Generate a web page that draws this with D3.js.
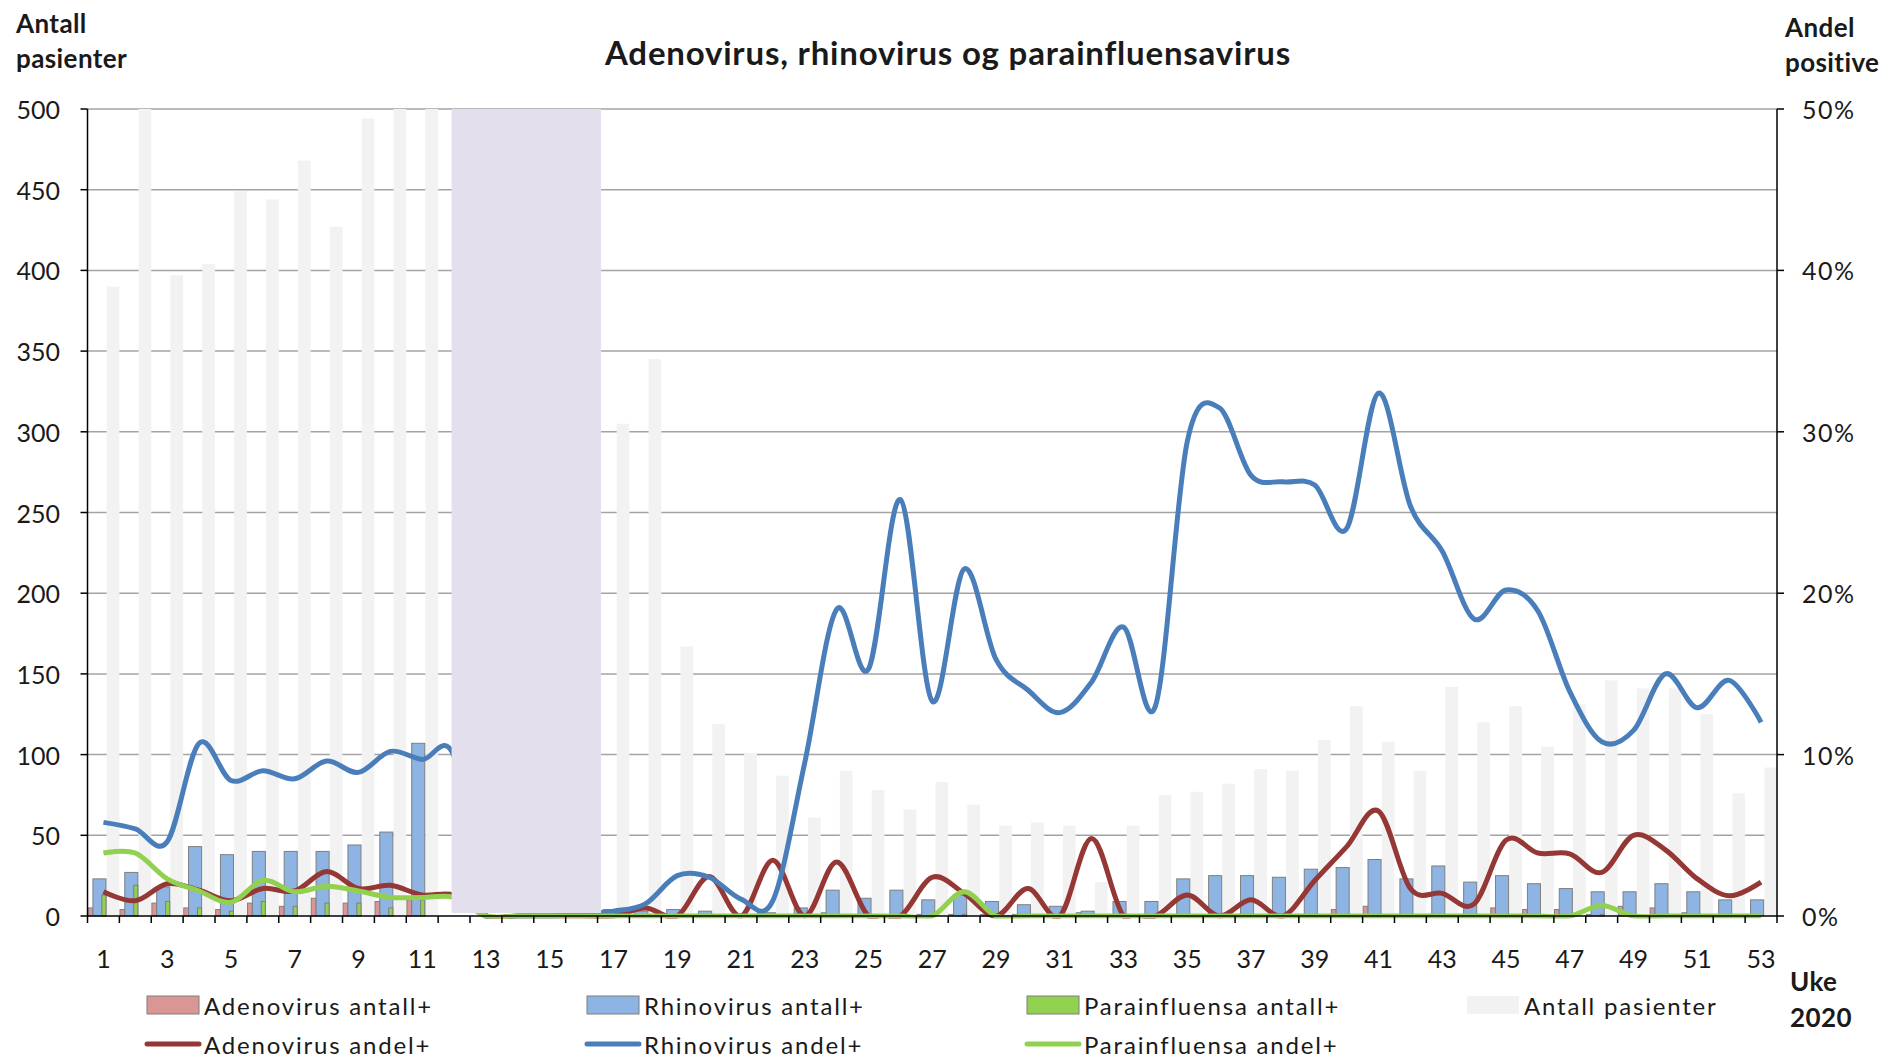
<!DOCTYPE html>
<html>
<head>
<meta charset="utf-8">
<script src="https://cdn.jsdelivr.net/npm/d3@7"></script>
<style>
  body { margin: 0; background: #fff; }
  svg text { font-family: Lato, "Open Sans", sans-serif; fill: #1a1a1a; }
</style>
</head>
<body>
<div class="chart"></div>
<script>
// weeks (uke) 1-53, 2020
const weeks = [1,2,3,4,5,6,7,8,9,10,11,12,13,14,15,16,17,18,19,20,21,22,23,24,25,26,27,
               28,29,30,31,32,33,34,35,36,37,38,39,40,41,42,43,44,45,46,47,48,49,50,51,52,53];
const xLabels = [1,3,5,7,9,11,13,15,17,19,21,23,25,27,29,31,33,35,37,39,41,43,45,47,49,51,53];

// counts (left axis)
const antallPasienter = [390,520,397,404,449,444,468,427,494,520,520,0,0,0,0,0,305,345,167,119,101,87,61,90,78,66,
                         83,69,56,58,56,21,56,75,77,82,91,90,109,130,108,90,142,120,130,105,131,146,141,141,125,76,92];
const adenoAntall = [5,4,8,5,4,8,6,11,8,9,10,0,0,0,0,0,0,1,0,1,0,3,0,2,0,0,
                     1,1,1,1,0,2,0,0,1,0,1,0,1,4,6,1,1,0,5,4,4,1,6,5,2,0,1];
const rhinoAntall = [23,27,18,43,38,40,40,40,44,52,107,0,0,0,0,0,4,3,4,3,0,2,5,16,11,16,
                     10,13,9,7,6,3,9,9,23,25,25,24,29,30,35,23,31,21,25,20,17,15,15,20,15,10,10];
const paraAntall = [13,19,9,5,3,9,6,8,8,5,10,0,0,0,0,0,0,0,0,0,0,0,0,0,0,0,
                    0,1,0,0,0,0,0,0,0,0,0,0,0,0,0,0,0,0,0,0,0,1,0,0,0,0,0];

// share positive, % (right axis)
const adenoAndel = [1.5,0.95,2.0,1.6,0.95,1.7,1.55,2.75,1.7,1.9,1.3,1.3,0,0,0,0,0,0.5,0,2.45,0,3.45,0,3.35,0,0,
                    2.4,1.4,0,1.7,0,4.8,0,0,1.3,0,1.0,0,2.2,4.3,6.5,1.7,1.4,0.75,4.7,3.9,3.85,2.7,5.0,4.1,2.3,1.25,2.1];
const rhinoAndel = [5.8,5.4,4.6,10.7,8.4,9.0,8.5,9.6,8.9,10.2,9.7,9.9,0,0,0,0.1,0.3,0.75,2.5,2.4,1.05,0.95,9.5,19.0,15.3,25.8,
                    13.3,21.5,15.9,14.0,12.6,14.5,17.9,13.0,29.4,31.5,27.3,26.9,26.7,24.0,32.4,25.4,22.6,18.4,20.2,18.9,13.9,10.8,11.5,15.0,12.9,14.6,12.0];
const paraAndel = [3.9,3.9,2.3,1.55,0.85,2.2,1.5,1.85,1.55,1.15,1.15,1.15,0,0,0,0,0,0,0,0,0,0,0,0,0,0,
                   0,1.5,0,0,0,0,0,0,0,0,0,0,0,0,0,0,0,0,0,0,0,0.65,0,0,0,0,0];

const leftTicks = [0,50,100,150,200,250,300,350,400,450,500];
const rightTicks = [0,10,20,30,40,50];
const pauseWeeks = [12,16]; // shaded period

const w = 1888, h = 1059;
const pLeft = 87.5, pRight = 1777, pTop = 109, pBottom = 916;

const svg = d3.select('.chart').append('svg')
    .attr('width', w)
    .attr('height', h);

const x = d3.scaleBand().domain(weeks).range([pLeft, pRight]).padding(0);
const xc = d3.scaleLinear().domain([0.5, 53.5]).range([pLeft, pRight]);
const y = d3.scaleLinear().domain([0, 500]).range([pBottom, pTop]);
const yP = d3.scaleLinear().domain([0, 50]).range([pBottom, pTop]);
const bw = x.bandwidth();

const cAdeno = '#da9694', cRhino = '#8db4e2', cPara = '#92d050', cGrey = '#f2f2f2';
const lAdeno = '#953735', lRhino = '#4a7ebb', lPara = '#92d050';

//gridlines
svg.selectAll('line.grid')
    .data(leftTicks.filter(d => d > 0))
    .enter().append('line')
    .attr('class', 'grid')
    .attr('x1', pLeft).attr('x2', pRight)
    .attr('y1', d => y(d)).attr('y2', d => y(d))
    .attr('stroke', '#a3a3a3')
    .attr('stroke-width', 1.5);

svg.append('clipPath').attr('id', 'plot')
    .append('rect')
    .attr('x', pLeft).attr('y', pTop)
    .attr('width', pRight - pLeft).attr('height', pBottom - pTop + 2.5);

const plot = svg.append('g').attr('clip-path', 'url(#plot)');

//grey bars - antall pasienter
plot.selectAll('rect.pas')
    .data(weeks)
    .enter().append('rect')
    .attr('class', 'pas')
    .attr('x', d => x(d) + bw * 0.6)
    .attr('width', bw * 0.4)
    .attr('y', (d, i) => y(antallPasienter[i]))
    .attr('height', (d, i) => y(0) - y(antallPasienter[i]))
    .attr('fill', cGrey);

function bars(cls, values, f0, f1, color) {
    plot.selectAll('rect.' + cls)
        .data(weeks.filter((d, i) => values[i] > 0))
        .enter().append('rect')
        .attr('class', cls)
        .attr('x', d => x(d) + bw * f0)
        .attr('width', bw * (f1 - f0))
        .attr('y', d => y(values[d - 1]))
        .attr('height', d => y(0) - y(values[d - 1]))
        .attr('fill', color)
        .attr('stroke', '#7f7f7f')
        .attr('stroke-width', 1);
}
bars('ade', adenoAntall, 0.02, 0.17, cAdeno);
bars('rhi', rhinoAntall, 0.17, 0.58, cRhino);
bars('par', paraAntall, 0.45, 0.58, cPara);

//x axis line
svg.append('line')
    .attr('x1', pLeft).attr('x2', pRight)
    .attr('y1', pBottom).attr('y2', pBottom)
    .attr('stroke', '#000').attr('stroke-width', 1.5);

//smoothed lines
const line = d3.line()
    .x((d, i) => xc(weeks[i]))
    .y(d => yP(d))
    .curve(d3.curveCardinal.tension(0));

[[adenoAndel, lAdeno], [rhinoAndel, lRhino], [paraAndel, lPara]].forEach(([vals, col]) => {
    plot.append('path')
        .attr('d', line(vals))
        .attr('fill', 'none')
        .attr('stroke', col)
        .attr('stroke-width', 5)
        .attr('stroke-linejoin', 'round');
});

//shaded pause
svg.append('rect')
    .attr('x', xc(pauseWeeks[0]) - 2.5)
    .attr('y', y(500))
    .attr('width', xc(pauseWeeks[1] + 0.5) + 3.5 - (xc(pauseWeeks[0]) - 2.5))
    .attr('height', y(0) - y(500) - 3)
    .attr('fill', '#e4dfec');

//left axis
const axL = svg.append('g');
axL.append('line').attr('x1', pLeft).attr('x2', pLeft).attr('y1', pTop).attr('y2', pBottom)
    .attr('stroke', '#000').attr('stroke-width', 1.5);
axL.selectAll('line.t').data(leftTicks).enter().append('line')
    .attr('x1', pLeft - 7).attr('x2', pLeft).attr('y1', d => y(d)).attr('y2', d => y(d))
    .attr('stroke', '#000').attr('stroke-width', 1.5);
axL.selectAll('text').data(leftTicks).enter().append('text')
    .text(d => d)
    .attr('x', 60).attr('y', d => y(d))
    .attr('text-anchor', 'end')
    .attr('dominant-baseline', 'central')
    .attr('font-size', 25);

//right axis
const axR = svg.append('g');
axR.append('line').attr('x1', pRight).attr('x2', pRight).attr('y1', pTop).attr('y2', pBottom)
    .attr('stroke', '#000').attr('stroke-width', 1.5);
axR.selectAll('line.t').data(rightTicks).enter().append('line')
    .attr('x1', pRight).attr('x2', pRight + 7).attr('y1', d => yP(d)).attr('y2', d => yP(d))
    .attr('stroke', '#000').attr('stroke-width', 1.5);
axR.selectAll('text').data(rightTicks).enter().append('text')
    .text(d => d + '%')
    .attr('x', 1802).attr('y', d => yP(d))
    .attr('dominant-baseline', 'central')
    .attr('font-size', 25)
    .attr('letter-spacing', 1.5);

//x ticks
svg.selectAll('line.xt').data([0].concat(weeks)).enter().append('line')
    .attr('x1', d => xc(d + 0.5)).attr('x2', d => xc(d + 0.5))
    .attr('y1', pBottom).attr('y2', pBottom + 7)
    .attr('stroke', '#000').attr('stroke-width', 1.5);
svg.selectAll('text.xl').data(xLabels).enter().append('text')
    .attr('class', 'xl')
    .text(d => d)
    .attr('x', d => xc(d)).attr('y', 958)
    .attr('text-anchor', 'middle')
    .attr('dominant-baseline', 'central')
    .attr('font-size', 25);

//titles
svg.append('text').text('Adenovirus, rhinovirus og parainfluensavirus')
    .attr('x', 948).attr('y', 65).attr('text-anchor', 'middle')
    .attr('font-size', 33).attr('font-weight', 'bold')
    .attr('letter-spacing', 0.8);
const axisTitles = [
    {t: 'Antall', x: 16, y: 33}, {t: 'pasienter', x: 16, y: 68},
    {t: 'Andel', x: 1785, y: 37}, {t: 'positive', x: 1785, y: 72},
    {t: 'Uke', x: 1790, y: 991}, {t: '2020', x: 1790, y: 1027}
];
svg.selectAll('text.at').data(axisTitles).enter().append('text')
    .attr('class', 'at')
    .text(d => d.t)
    .attr('x', d => d.x).attr('y', d => d.y)
    .attr('font-size', 26).attr('font-weight', 'bold')
    .attr('letter-spacing', 0.4);

//legend
const legendItems = [
    {name: 'Adenovirus antall+', type: 'bar', color: cAdeno, col: 0, row: 0},
    {name: 'Rhinovirus antall+', type: 'bar', color: cRhino, col: 1, row: 0},
    {name: 'Parainfluensa antall+', type: 'bar', color: cPara, col: 2, row: 0},
    {name: 'Antall pasienter', type: 'grey', color: cGrey, col: 3, row: 0},
    {name: 'Adenovirus andel+', type: 'line', color: lAdeno, col: 0, row: 1},
    {name: 'Rhinovirus andel+', type: 'line', color: lRhino, col: 1, row: 1},
    {name: 'Parainfluensa andel+', type: 'line', color: lPara, col: 2, row: 1}
];
const lg = svg.selectAll('g.leg').data(legendItems).enter().append('g')
    .attr('transform', d => `translate(${147 + d.col * 440},${1005 + d.row * 39})`);
lg.filter(d => d.type !== 'line').append('rect')
    .attr('x', 0).attr('y', -9).attr('width', 52).attr('height', 18)
    .attr('fill', d => d.color)
    .attr('stroke', d => d.type === 'bar' ? '#7f7f7f' : 'none');
lg.filter(d => d.type === 'line').append('line')
    .attr('x1', 0).attr('x2', 52).attr('y1', 0).attr('y2', 0)
    .attr('stroke', d => d.color).attr('stroke-width', 5).attr('stroke-linecap', 'round');
lg.append('text').text(d => d.name)
    .attr('x', 57).attr('y', 0)
    .attr('dominant-baseline', 'central')
    .attr('font-size', 24)
    .attr('letter-spacing', 1.8);
</script>
</body>
</html>
